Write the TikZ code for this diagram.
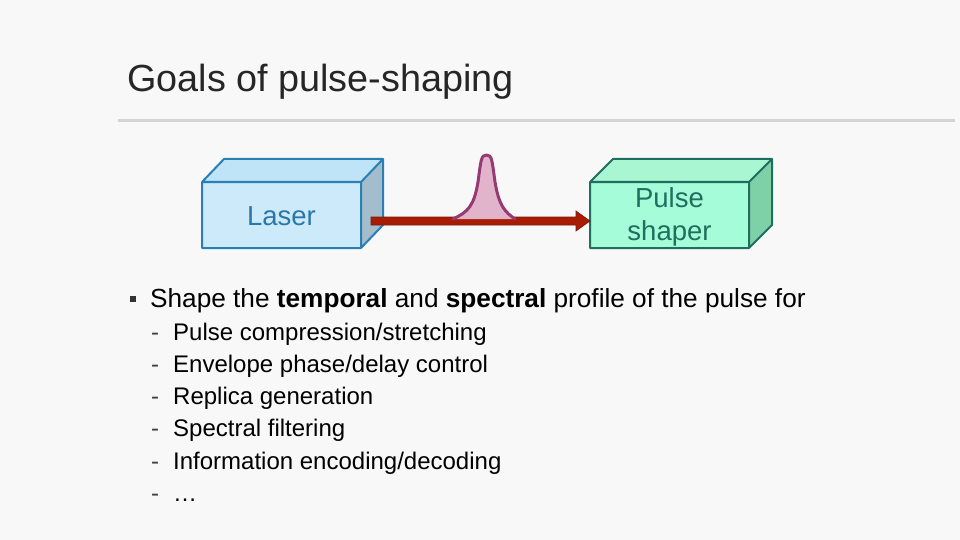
\documentclass[tikz,border=0pt]{standalone}
\usepackage{fontspec}
\setmainfont{Liberation Sans}
\usetikzlibrary{arrows.meta}
\definecolor{bg}{HTML}{F8F8F8}
\definecolor{lasfront}{HTML}{CCEAFA}
\definecolor{lastop}{HTML}{BFE3F7}
\definecolor{lasside}{HTML}{A3BDCC}
\definecolor{lasedge}{HTML}{2A7FB5}
\definecolor{lastext}{HTML}{2A78A8}
\definecolor{shfront}{HTML}{A4FCD8}
\definecolor{shtop}{HTML}{A8F6D2}
\definecolor{shside}{HTML}{7ED0A6}
\definecolor{shedge}{HTML}{1F6E5E}
\definecolor{shtext}{HTML}{1F6E5E}
\definecolor{beam}{HTML}{A81C04}
\definecolor{beamedge}{HTML}{7A1A10}
\definecolor{pulsefill}{HTML}{E2B4CC}
\definecolor{pulseedge}{HTML}{963A74}
\definecolor{rule}{HTML}{D4D4D4}
\tikzset{
  boxtext/.style={font=\fontsize{27.5}{31}\selectfont, align=center, inner sep=0pt},
  item/.style={anchor=base west, inner sep=0pt, font=\fontsize{24}{28}\selectfont, text=black},
  dashmark/.style={anchor=base west, inner sep=0pt, font=\fontsize{24}{28}\selectfont, text=black!75},
}
\begin{document}
\begin{tikzpicture}[x=1pt,y=-1pt]
\fill[bg] (0,0) rectangle (960,540);
\useasboundingbox (0,0) rectangle (960,540);
% title
\node[anchor=base west, inner sep=0pt, font=\fontsize{37.8}{42}\selectfont, text=black!85] (title) at (127,92) {Goals of pulse-shaping};
\draw[rule, line width=3pt] (118,120.5) -- (955,120.5);
% Laser box
\coordinate (L1) at (202,182);
\coordinate (L2) at (361,182);
\coordinate (L3) at (361,248);
\coordinate (L4) at (202,248);
\coordinate (L5) at (224,159);
\coordinate (L6) at (383,159);
\coordinate (L7) at (383,225);
\fill[lasfront] (L1) -- (L2) -- (L3) -- (L4) -- cycle;
\fill[lastop] (L1) -- (L5) -- (L6) -- (L2) -- cycle;
\fill[lasside] (L2) -- (L6) -- (L7) -- (L3) -- cycle;
\draw[lasedge, line width=2pt, line join=round] (L1) -- (L2) -- (L3) -- (L4) -- cycle (L1) -- (L5) -- (L6) -- (L2) (L6) -- (L7) -- (L3);
\node[boxtext, text=lastext] (laser) at (281.5,216) {Laser};
% Pulse shaper box
\coordinate (S1) at (590,182);
\coordinate (S2) at (749,182);
\coordinate (S3) at (749,248);
\coordinate (S4) at (590,248);
\coordinate (S5) at (613,159);
\coordinate (S6) at (772,159);
\coordinate (S7) at (772,225);
\fill[shfront] (S1) -- (S2) -- (S3) -- (S4) -- cycle;
\fill[shtop] (S1) -- (S5) -- (S6) -- (S2) -- cycle;
\fill[shside] (S2) -- (S6) -- (S7) -- (S3) -- cycle;
\draw[shedge, line width=2pt, line join=round] (S1) -- (S2) -- (S3) -- (S4) -- cycle (S1) -- (S5) -- (S6) -- (S2) (S6) -- (S7) -- (S3);
\node[boxtext, text=shtext] (shaper) at (669.5,216.5) {Pulse\\[2pt]shaper};
% beam arrow
\fill[beam, draw=beamedge, line width=0.6pt] (371,217) -- (576,217) -- (576,211) -- (590,221) -- (576,231) -- (576,225) -- (371,225) -- cycle;
% pulse
\fill[pulsefill, draw=pulseedge, line width=3pt, line join=round, line cap=round]
  (453,219) .. controls (468,212) and (474,206) .. (478,182)
  .. controls (481,160) and (481,155) .. (486.5,155)
  .. controls (492,155) and (492,160) .. (495,182)
  .. controls (499,206) and (505,212) .. (515,219);
% bullets
\fill[black!80] (130,296) rectangle (136,302);
\node[item, font=\fontsize{26.2}{30}\selectfont] (b0) at (150,307) {Shape the \textbf{temporal} and \textbf{spectral} profile of the pulse for};
\foreach \t [count=\i] in {Pulse compression/stretching, Envelope phase/delay control, Replica generation, Spectral filtering, Information encoding/decoding, \dots}{
  \node[dashmark] (d\i) at (151,{340+(\i-1)*32.3}) {-};
  \node[item] (s\i) at (173,{340+(\i-1)*32.3}) {\t};
}
\end{tikzpicture}
\end{document}
